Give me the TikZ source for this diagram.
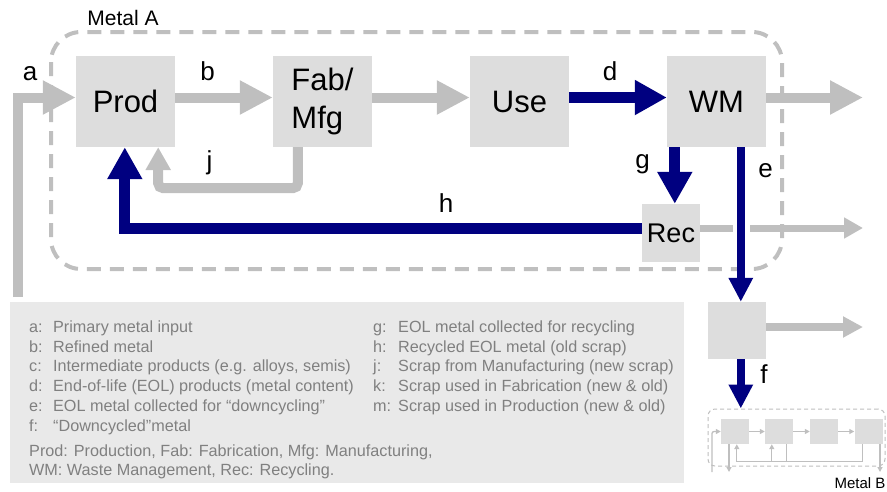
\documentclass[tikz,border=0pt]{standalone}
\usepackage{fontspec}
\setmainfont{Liberation Sans}
\usetikzlibrary{arrows.meta,calc}
\definecolor{agray}{RGB}{191,191,191}
\definecolor{bgray}{RGB}{221,221,221}
\definecolor{lgray}{RGB}{233,233,233}
\definecolor{tgray}{RGB}{128,128,128}
\definecolor{navyc}{RGB}{0,0,128}
\begin{document}
\begin{tikzpicture}[x=1pt,y=-1pt,
  box/.style={fill=bgray, inner sep=0pt, minimum width=99pt, minimum height=91pt, font=\fontsize{31}{38.5}\selectfont, align=left},
  garrow/.style={draw=agray, line width=10pt, -{Triangle[length=33pt 0 0,width=32pt 0 0]}},
  narrow/.style={draw=navyc, line width=11pt, -{Triangle[length=32pt 0 0,width=33pt 0 0]}},
  thinnavy/.style={draw=navyc, line width=7.5pt, -{Triangle[length=24pt 0 0,width=23pt 0 0]}},
  thingray/.style={draw=agray, line width=7.5pt, -{Triangle[length=20pt 0 0,width=20pt 0 0]}},
  jarrow/.style={draw=agray, line width=10pt, rounded corners=5pt, -{Triangle[length=23pt 0 0,width=24pt 0 0]}},
  lbl/.style={font=\fontsize{26}{30}\selectfont, anchor=base, inner sep=0pt},
  legtxt/.style={font=\fontsize{16.2}{19.7}\selectfont, text=tgray, anchor=base west, inner sep=0pt},
  mbox/.style={fill=bgray, inner sep=0pt, minimum width=28pt, minimum height=25pt},
  mframe/.style={draw=agray, line width=1pt, dash pattern=on 4pt off 3pt, rounded corners=7pt, inner sep=0pt, minimum width=177pt, minimum height=57pt},
  mline/.style={draw=agray, line width=1.3pt},
  marr/.style={mline, -{Triangle[length=5pt 0 0,width=5pt 0 0]}}
]
\useasboundingbox (0,0) rectangle (887,491);

% Metal A frame
\draw[agray, line width=4pt, dash pattern=on 14pt off 9pt, rounded corners=30pt] (51,32) rectangle (782,269);
\node[font=\fontsize{21}{25}\selectfont, anchor=base, inner sep=0pt] (metA) at (123,25) {Metal A};

% legend
\node[fill=lgray, inner sep=0pt, minimum width=674pt, minimum height=181pt] (legend) at (347,392.5) {};

% main boxes
\node[box] (prod) at (125.5,101.5) {Prod};
\node[box] (fab) at (322.5,101.5) {Fab/\\Mfg};
\node[box] (use) at (519.5,101.5) {Use};
\node[box] (wm) at (716.5,101.5) {WM};
\node[box, minimum width=58pt, minimum height=58pt, font=\fontsize{27}{30}\selectfont] (rec) at (671,233) {Rec};
\node[box, minimum width=58pt, minimum height=57pt] (sbox) at (737,330.5) {};

% free ends
\coordinate (ain) at (18,297);
\coordinate (wmout) at (863,97.5);
\coordinate (recout) at (863,228);
\coordinate (sout) at (863,327);

% gray flows
\draw[garrow] (ain) |- ($(prod.west)+(0,-4)$);
\draw[garrow] ($(prod.east)+(0,-4)$) -- ($(fab.west)+(0,-4)$);
\draw[garrow] ($(fab.east)+(0,-4)$) -- ($(use.west)+(0,-4)$);
\draw[garrow] ($(wm.east)+(0,-4)$) -- (wmout);
\draw[jarrow] ($(fab.south west)+(25,0)$) -- ++(0,41) -| ($(prod.south east)+(-17,0)$);
\draw[draw=agray, line width=7pt, -{Triangle[length=19pt 0 0,width=20pt 0 0]}] ($(rec.east)+(0,-5)$) -- (recout);
\draw[thingray] (sbox.east |- sout) -- (sout);

% navy flows
\draw[narrow] ($(use.east)+(0,-4)$) -- ($(wm.west)+(0,-4)$);
\draw[narrow] ($(wm.south west)+(8,0)$) coordinate (gtop) -- (gtop |- rec.north);
\draw[narrow] ($(rec.west)+(0,-5)$) -| ($(prod.south west)+(49,0)$);
\fill[white] (732.5,221) rectangle (749.5,236);
\draw[thinnavy] ($(wm.south west)+(74,0)$) coordinate (etop) -- (etop |- sbox.north);

% Metal B mini diagram
\node[mframe] (mB) at (796.5,437.5) {};
\node[mbox] (m1) at (735,431.5) {};
\node[mbox] (m2) at (779,431.5) {};
\node[mbox] (m3) at (824,431.5) {};
\node[mbox] (m4) at (868.5,431.5) {};
\draw[marr] (m1) -- (m2);
\draw[marr] (m2) -- (m3);
\draw[marr] (m3) -- (m4);
\coordinate (min) at (712,472);
\coordinate (mout1) at (729,472);
\coordinate (mout4) at (880,472);
\draw[marr, rounded corners=2pt] (min) |- (m1.west);
\draw[marr] (m1.south -| mout1) -- (mout1);
\draw[marr] ($(m4.south west)+(8,0)$) -- ++(0,17) -| ($(m1.south west)+(16,0)$);
\draw[mline] ($(m2.south west)+(22,0)$) -- ++(0,17);
\draw[marr] ($(m2.south west)+(7,17)$) -- ($(m2.south west)+(7,0)$);
\draw[marr] (m4.south -| mout4) -- (mout4);
\draw[thinnavy, line width=8pt] (etop |- sbox.south) -- (etop |- mB.north);
\node[font=\fontsize{15}{18}\selectfont, anchor=base, inner sep=0pt] (metB) at (860,488) {Metal B};

% flow labels
\node[lbl] (la) at (30,80) {a};
\node[lbl] (lb) at (207.5,80) {b};
\node[lbl] (ld) at (610,80) {d};
\node[lbl] (lj) at (209.5,169) {j};
\node[lbl] (lg) at (642.5,168.5) {g};
\node[lbl] (le) at (765.5,177.5) {e};
\node[lbl] (lh) at (446,212) {h};
\node[lbl] (lf) at (764,383) {f};

% legend text
\node[legtxt] (t1) at (29,332.5) {\makebox[24pt][l]{a:}Primary metal input};
\node[legtxt] (t2) at (29,352.2) {\makebox[24pt][l]{b:}Refined metal};
\node[legtxt] (t3) at (29,371.9) {\makebox[24pt][l]{c:}Intermediate products (e.g. alloys, semis)};
\node[legtxt] (t4) at (29,391.6) {\makebox[24pt][l]{d:}End-of-life (EOL) products (metal content)};
\node[legtxt] (t5) at (29,411.3) {\makebox[24pt][l]{e:}EOL metal collected for “downcycling”};
\node[legtxt] (t6) at (29,431) {\makebox[24pt][l]{f:}“Downcycled”metal};
\node[legtxt] (t7) at (373,332.5) {\makebox[25pt][l]{g:}EOL metal collected for recycling};
\node[legtxt] (t8) at (373,352.2) {\makebox[25pt][l]{h:}Recycled EOL metal (old scrap)};
\node[legtxt] (t9) at (373,371.9) {\makebox[25pt][l]{j:}Scrap from Manufacturing (new scrap)};
\node[legtxt] (t10) at (373,391.6) {\makebox[25pt][l]{k:}Scrap used in Fabrication (new \& old)};
\node[legtxt] (t11) at (373,411.3) {\makebox[25pt][l]{m:}Scrap used in Production (new \& old)};
\node[legtxt] (t12) at (29,456) {Prod: Production, Fab: Fabrication, Mfg: Manufacturing,};
\node[legtxt] (t13) at (29,475.5) {WM: Waste Management, Rec: Recycling.};
\end{tikzpicture}
\end{document}
